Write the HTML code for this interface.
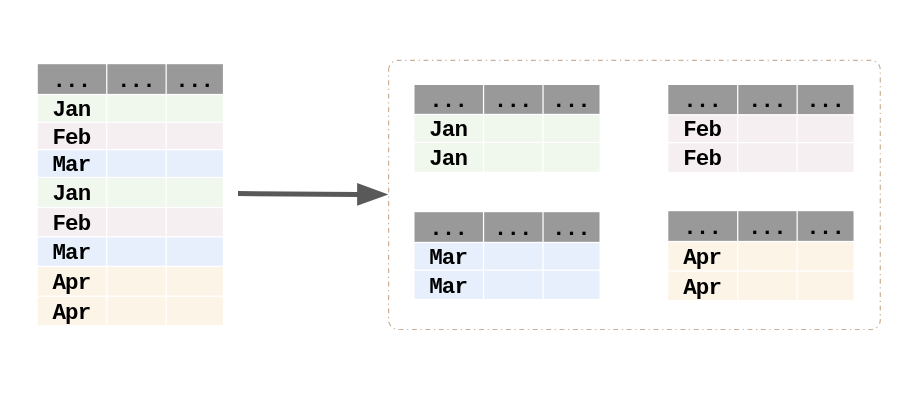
<!DOCTYPE html>
<html lang="en">
<head>
<meta charset="utf-8">
<title>Partition by month</title>
<style>
html,body{margin:0;padding:0;background:#fff;}
body{width:924px;height:401px;overflow:hidden;}
svg{display:block;will-change:transform;}
svg text{font-family:"Liberation Mono","DejaVu Sans Mono",monospace;font-weight:bold;font-size:22.5px;letter-spacing:-0.87px;text-anchor:middle;fill:#000;}
</style>
</head>
<body>
<svg width="924" height="401" viewBox="0 0 924 401">
<g id="source">
<rect x="37.80" y="64.20" width="68.33" height="29.67" fill="#999999"/>
<rect x="107.38" y="64.20" width="58.15" height="29.67" fill="#999999"/>
<rect x="166.78" y="64.20" width="56.12" height="29.67" fill="#999999"/>
<rect x="37.80" y="95.12" width="68.33" height="26.50" fill="#f0f7ed"/>
<rect x="107.38" y="95.12" width="58.15" height="26.50" fill="#f0f7ed"/>
<rect x="166.78" y="95.12" width="56.12" height="26.50" fill="#f0f7ed"/>
<rect x="37.80" y="122.88" width="68.33" height="26.15" fill="#f5eff1"/>
<rect x="107.38" y="122.88" width="58.15" height="26.15" fill="#f5eff1"/>
<rect x="166.78" y="122.88" width="56.12" height="26.15" fill="#f5eff1"/>
<rect x="37.80" y="150.28" width="68.33" height="26.55" fill="#e8effc"/>
<rect x="107.38" y="150.28" width="58.15" height="26.55" fill="#e8effc"/>
<rect x="166.78" y="150.28" width="56.12" height="26.55" fill="#e8effc"/>
<rect x="37.80" y="178.07" width="68.33" height="28.85" fill="#f0f7ed"/>
<rect x="107.38" y="178.07" width="58.15" height="28.85" fill="#f0f7ed"/>
<rect x="166.78" y="178.07" width="56.12" height="28.85" fill="#f0f7ed"/>
<rect x="37.80" y="208.18" width="68.33" height="27.95" fill="#f5eff1"/>
<rect x="107.38" y="208.18" width="58.15" height="27.95" fill="#f5eff1"/>
<rect x="166.78" y="208.18" width="56.12" height="27.95" fill="#f5eff1"/>
<rect x="37.80" y="237.38" width="68.33" height="28.35" fill="#e8effc"/>
<rect x="107.38" y="237.38" width="58.15" height="28.35" fill="#e8effc"/>
<rect x="166.78" y="237.38" width="56.12" height="28.35" fill="#e8effc"/>
<rect x="37.80" y="266.98" width="68.33" height="28.55" fill="#fdf4e8"/>
<rect x="107.38" y="266.98" width="58.15" height="28.55" fill="#fdf4e8"/>
<rect x="166.78" y="266.98" width="56.12" height="28.55" fill="#fdf4e8"/>
<rect x="37.80" y="296.77" width="68.33" height="28.43" fill="#fdf4e8"/>
<rect x="107.38" y="296.77" width="58.15" height="28.43" fill="#fdf4e8"/>
<rect x="166.78" y="296.77" width="56.12" height="28.43" fill="#fdf4e8"/>
<text x="71.41" y="87">...</text>
<text x="135.90" y="87">...</text>
<text x="194.29" y="87">...</text>
<text x="71.41" y="116">Jan</text>
<text x="71.41" y="144">Feb</text>
<text x="71.41" y="171">Mar</text>
<text x="71.41" y="200">Jan</text>
<text x="71.41" y="230">Feb</text>
<text x="71.41" y="259">Mar</text>
<text x="71.41" y="289">Apr</text>
<text x="71.41" y="319">Apr</text>
</g>
<g id="jan">
<rect x="414.50" y="85.00" width="68.43" height="28.83" fill="#999999"/>
<rect x="484.18" y="85.00" width="58.25" height="28.83" fill="#999999"/>
<rect x="543.67" y="85.00" width="55.83" height="28.83" fill="#999999"/>
<rect x="414.50" y="115.08" width="68.43" height="26.75" fill="#f0f7ed"/>
<rect x="484.18" y="115.08" width="58.25" height="26.75" fill="#f0f7ed"/>
<rect x="543.67" y="115.08" width="55.83" height="26.75" fill="#f0f7ed"/>
<rect x="414.50" y="143.07" width="68.43" height="28.62" fill="#f0f7ed"/>
<rect x="484.18" y="143.07" width="58.25" height="28.62" fill="#f0f7ed"/>
<rect x="543.67" y="143.07" width="55.83" height="28.62" fill="#f0f7ed"/>
<text x="448.16" y="107">...</text>
<text x="512.75" y="107">...</text>
<text x="571.04" y="107">...</text>
<text x="448.16" y="136">Jan</text>
<text x="448.16" y="165">Jan</text>
</g>
<g id="feb">
<rect x="668.30" y="85.00" width="68.78" height="29.08" fill="#999999"/>
<rect x="738.33" y="85.00" width="58.20" height="29.08" fill="#999999"/>
<rect x="797.77" y="85.00" width="55.77" height="29.08" fill="#999999"/>
<rect x="668.30" y="115.33" width="68.78" height="26.65" fill="#f5eff1"/>
<rect x="738.33" y="115.33" width="58.20" height="26.65" fill="#f5eff1"/>
<rect x="797.77" y="115.33" width="55.77" height="26.65" fill="#f5eff1"/>
<rect x="668.30" y="143.22" width="68.78" height="28.68" fill="#f5eff1"/>
<rect x="738.33" y="143.22" width="58.20" height="28.68" fill="#f5eff1"/>
<rect x="797.77" y="143.22" width="55.77" height="28.68" fill="#f5eff1"/>
<text x="702.14" y="107">...</text>
<text x="766.88" y="107">...</text>
<text x="825.11" y="107">...</text>
<text x="702.14" y="136">Feb</text>
<text x="702.14" y="165">Feb</text>
</g>
<g id="mar">
<rect x="414.50" y="212.20" width="68.43" height="29.62" fill="#999999"/>
<rect x="484.18" y="212.20" width="58.25" height="29.62" fill="#999999"/>
<rect x="543.67" y="212.20" width="55.83" height="29.62" fill="#999999"/>
<rect x="414.50" y="243.07" width="68.43" height="26.50" fill="#e8effc"/>
<rect x="484.18" y="243.07" width="58.25" height="26.50" fill="#e8effc"/>
<rect x="543.67" y="243.07" width="55.83" height="26.50" fill="#e8effc"/>
<rect x="414.50" y="270.82" width="68.43" height="28.07" fill="#e8effc"/>
<rect x="484.18" y="270.82" width="58.25" height="28.07" fill="#e8effc"/>
<rect x="543.67" y="270.82" width="55.83" height="28.07" fill="#e8effc"/>
<text x="448.16" y="235">...</text>
<text x="512.75" y="235">...</text>
<text x="571.04" y="235">...</text>
<text x="448.16" y="264">Mar</text>
<text x="448.16" y="293">Mar</text>
</g>
<g id="apr">
<rect x="668.30" y="211.20" width="68.78" height="29.68" fill="#999999"/>
<rect x="738.33" y="211.20" width="58.20" height="29.68" fill="#999999"/>
<rect x="797.77" y="211.20" width="55.77" height="29.68" fill="#999999"/>
<rect x="668.30" y="242.12" width="68.78" height="28.20" fill="#fdf4e8"/>
<rect x="738.33" y="242.12" width="58.20" height="28.20" fill="#fdf4e8"/>
<rect x="797.77" y="242.12" width="55.77" height="28.20" fill="#fdf4e8"/>
<rect x="668.30" y="271.57" width="68.78" height="28.57" fill="#fdf4e8"/>
<rect x="738.33" y="271.57" width="58.20" height="28.57" fill="#fdf4e8"/>
<rect x="797.77" y="271.57" width="55.77" height="28.57" fill="#fdf4e8"/>
<text x="702.14" y="234">...</text>
<text x="766.88" y="234">...</text>
<text x="825.11" y="234">...</text>
<text x="702.14" y="264">Apr</text>
<text x="702.14" y="294">Apr</text>
</g>
<g id="arrow">
<line x1="238" y1="193.5" x2="358" y2="194.45" stroke="#595959" stroke-width="5"/>
<polygon points="357.1,183 388.4,194.4 357.1,205.7" fill="#595959"/>
</g>
<path id="group-box" d="M388.6,69.9 A9.5,9.5 0 0 1 398.1,60.4 H870.8 A9.5,9.5 0 0 1 880.3,69.9 V320.0 A9.5,9.5 0 0 1 870.8,329.5 H398.1 A9.5,9.5 0 0 1 388.6,320.0 Z" fill="none" stroke="#cbb097" stroke-width="1.22" stroke-dasharray="4.88 3.66 1.22 3.66"/>
</svg>
</body>
</html>
